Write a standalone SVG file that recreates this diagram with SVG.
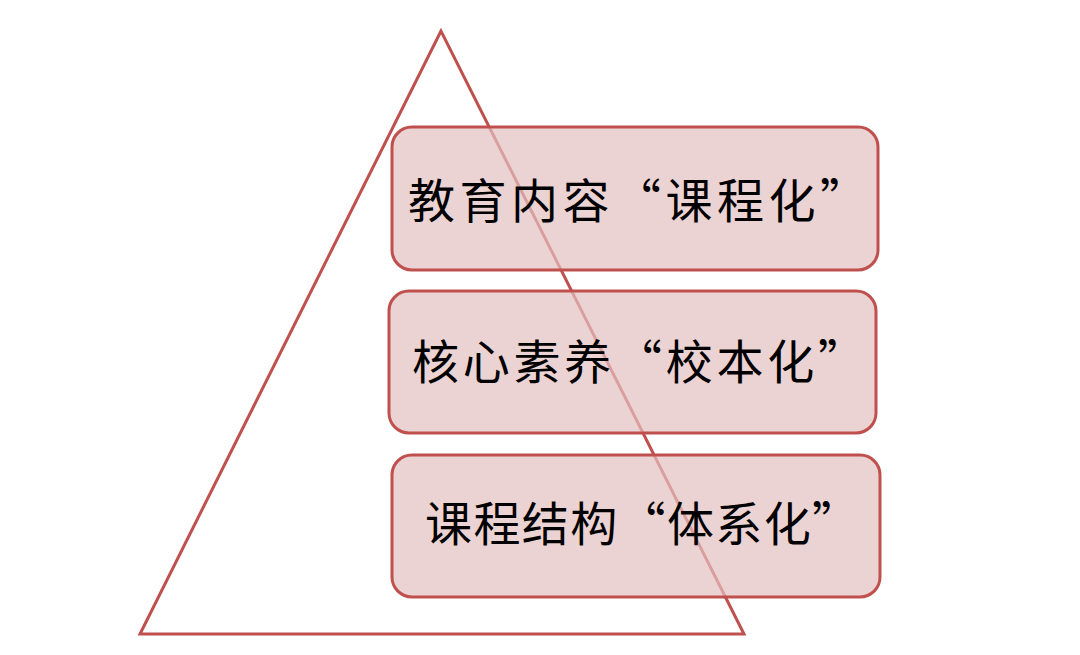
<svg xmlns="http://www.w3.org/2000/svg" width="1080" height="655" viewBox="0 0 1080 655">
<style>
.tri{fill:none;stroke:#bf504d;stroke-width:3;stroke-linejoin:miter}
.box{fill:#e4c0c0;fill-opacity:0.7;stroke:#c0504d;stroke-width:3}
.lbl{font-family:"Noto Sans CJK SC","Noto Sans CJK TC",sans-serif;font-size:47px;fill:#000;dominant-baseline:central}
</style>
<rect x="0" y="0" width="1080" height="655" fill="#ffffff"/>
<g id="pyramid">
<polygon class="tri" points="441,31 140,634 744,634"/>
</g>
<g id="connectors"></g>
<g id="node1">
<rect class="box" x="392" y="127" width="486" height="143" rx="20"/>
<text class="lbl" x="408" y="197" textLength="459" lengthAdjust="spacing">教育内容“课程化”</text>
</g>
<g id="node2">
<rect class="box" x="389" y="291" width="487" height="142" rx="20"/>
<text class="lbl" x="412" y="358" textLength="453" lengthAdjust="spacing">核心素养“校本化”</text>
</g>
<g id="node3">
<rect class="box" x="392" y="455" width="488" height="142" rx="20"/>
<text class="lbl" x="425" y="520" textLength="434" lengthAdjust="spacing">课程结构“体系化”</text>
</g>
</svg>
